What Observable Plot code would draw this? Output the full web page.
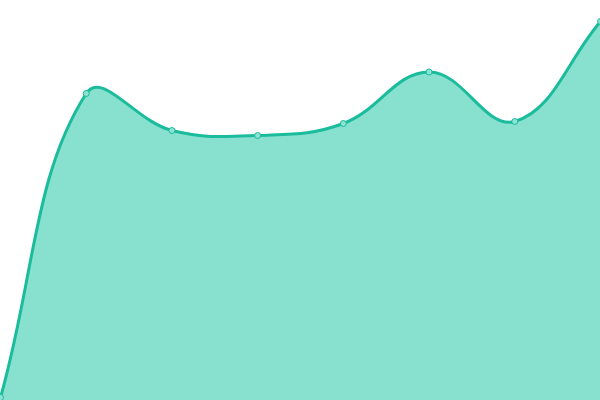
<!DOCTYPE html>
<html>
<head>
<meta charset="utf-8">
<script src="https://cdn.jsdelivr.net/npm/d3@7"></script>
<script src="https://cdn.jsdelivr.net/npm/@observablehq/plot@0.6"></script>
<style>
  html, body { margin: 0; padding: 0; background: #fff; }
  #chart svg { display: block; }
</style>
</head>
<body>
<div id="chart"></div>
<script>
const labels = [0, 1, 2, 3, 4, 5, 6, 7];
const values = [3, 307, 270, 265, 277, 328.5, 279, 379];

const data = labels.map((x, i) => ({x, y: values[i]}));

// Spline curve with distance-weighted control points (tension 0.4)
function splineCurve(context) {
  const t = 0.4;
  return {
    _line: NaN,
    areaStart() { this._line = 0; },
    areaEnd() { this._line = NaN; },
    lineStart() { this._pts = []; },
    point(x, y) { this._pts.push([+x, +y]); },
    lineEnd() {
      const p = this._pts, n = p.length;
      if (n) {
        if (this._line) context.lineTo(p[0][0], p[0][1]);
        else context.moveTo(p[0][0], p[0][1]);
        if (n === 2) context.lineTo(p[1][0], p[1][1]);
        else if (n > 2) {
          const cp = p.map((cur, i) => {
            const prev = p[i - 1] || cur, next = p[i + 1] || cur;
            const d01 = Math.hypot(cur[0] - prev[0], cur[1] - prev[1]);
            const d12 = Math.hypot(next[0] - cur[0], next[1] - cur[1]);
            let s01 = d01 / (d01 + d12), s12 = d12 / (d01 + d12);
            if (isNaN(s01)) s01 = 0;
            if (isNaN(s12)) s12 = 0;
            const fa = t * s01, fb = t * s12;
            return {
              prev: [cur[0] - fa * (next[0] - prev[0]), cur[1] - fa * (next[1] - prev[1])],
              next: [cur[0] + fb * (next[0] - prev[0]), cur[1] + fb * (next[1] - prev[1])]
            };
          });
          for (let i = 1; i < n; i++) {
            const a = cp[i - 1].next, b = cp[i].prev;
            context.bezierCurveTo(a[0], a[1], b[0], b[1], p[i][0], p[i][1]);
          }
        }
      }
      if (this._line || (this._line !== 0 && n === 1)) context.closePath();
      this._line = 1 - this._line;
    }
  };
}

const chart = Plot.plot({
  width: 600,
  height: 400,
  margin: 0,
  x: {domain: [0, 7], axis: null},
  y: {domain: [0, 400], axis: null},
  marks: [
    Plot.areaY(data, {x: "x", y: "y", curve: splineCurve, fill: "#88e0cf"}),
    Plot.lineY(data, {x: "x", y: "y", curve: splineCurve, stroke: "#1abc9c", strokeWidth: 3}),
    Plot.dot(data, {x: "x", y: "y", r: 3, fill: "#8ee2d1", stroke: "#1abc9c", strokeWidth: 1, clip: false})
  ]
});
document.getElementById("chart").appendChild(chart);
</script>
</body>
</html>
